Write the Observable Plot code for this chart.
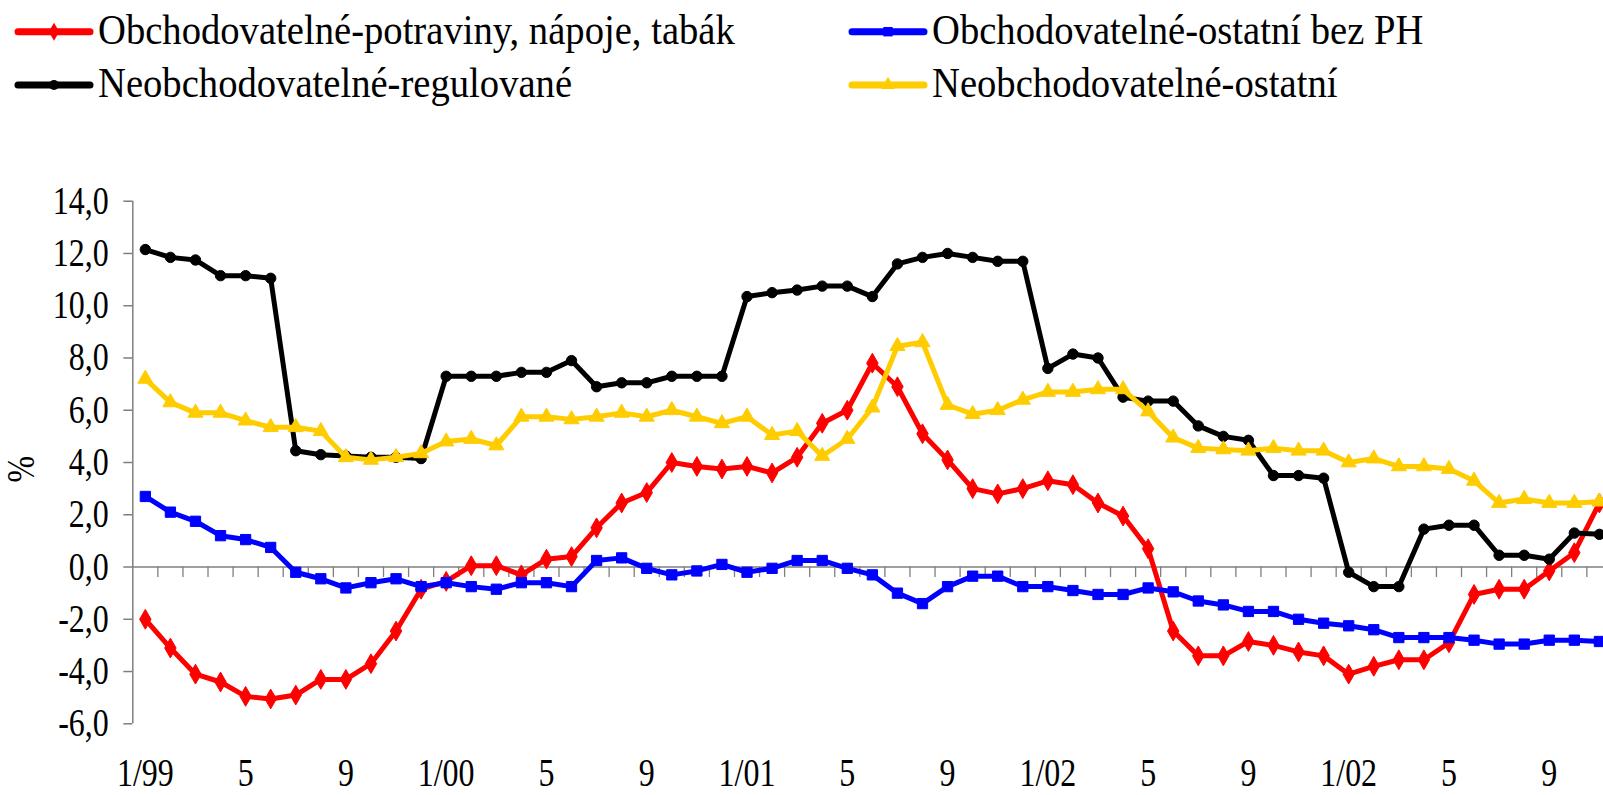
<!DOCTYPE html>
<html>
<head>
<meta charset="utf-8">
<script src="https://cdn.jsdelivr.net/npm/d3@7"></script>
<script src="https://cdn.jsdelivr.net/npm/@observablehq/plot@0.6"></script>
<style>
  html, body { margin: 0; padding: 0; background: #fff; overflow: hidden; }
  #wrap { width: 1603px; height: 795px; position: relative; overflow: hidden; }
  #legend { display: block; }
  #chart svg { display: block; }
</style>
</head>
<body>
<div id="wrap">
  <svg id="legend" width="1603" height="130" xmlns="http://www.w3.org/2000/svg"></svg>
  <div id="chart"></div>
</div>
<script>
// ---- data (monthly, 1/99 .. 11/03) ----
const seriesNames = [
  "Obchodovatelné-potraviny, nápoje, tabák",
  "Obchodovatelné-ostatní bez PH",
  "Neobchodovatelné-regulované",
  "Neobchodovatelné-ostatní"
];
const seriesColors = ["#ff0000", "#0000ff", "#000000", "#ffcc00"];
const seriesSymbols = ["diamond", "square", "circle", "triangle"];

const potraviny = [
  -2.0, -3.1, -4.1, -4.4, -4.95, -5.05, -4.9, -4.3, -4.3, -3.7, -2.45, -0.85,
  -0.55, 0.05, 0.05, -0.3, 0.3, 0.4, 1.5, 2.45, 2.85, 4.0, 3.85, 3.75,
  3.85, 3.6, 4.2, 5.5, 6.0, 7.8, 6.9, 5.1, 4.1, 3.0, 2.8, 3.0,
  3.3, 3.15, 2.45, 1.95, 0.7, -2.45, -3.4, -3.4, -2.85, -3.0, -3.25, -3.4,
  -4.1, -3.8, -3.55, -3.55, -2.9, -1.05, -0.85, -0.85, -0.15, 0.55, 2.45
];
const ostatniBezPH = [
  2.7, 2.1, 1.75, 1.2, 1.05, 0.75, -0.2, -0.45, -0.8, -0.6, -0.45, -0.75,
  -0.6, -0.75, -0.85, -0.6, -0.6, -0.75, 0.25, 0.35, -0.05, -0.3, -0.15, 0.1,
  -0.2, -0.05, 0.25, 0.25, -0.05, -0.3, -1.0, -1.4, -0.75, -0.35, -0.35, -0.75,
  -0.75, -0.9, -1.05, -1.05, -0.8, -0.95, -1.3, -1.45, -1.7, -1.7, -2.0, -2.15,
  -2.25, -2.4, -2.7, -2.7, -2.7, -2.8, -2.95, -2.95, -2.8, -2.8, -2.85
];
const regulovane = [
  12.15, 11.85, 11.75, 11.15, 11.15, 11.05, 4.45, 4.3, 4.25, 4.2, 4.2, 4.15,
  7.3, 7.3, 7.3, 7.45, 7.45, 7.9, 6.9, 7.05, 7.05, 7.3, 7.3, 7.3,
  10.35, 10.5, 10.6, 10.75, 10.75, 10.35, 11.6, 11.85, 12.0, 11.85, 11.7, 11.7,
  7.6, 8.15, 8.0, 6.5, 6.35, 6.35, 5.4, 5.0, 4.85, 3.5, 3.5, 3.4,
  -0.2, -0.75, -0.75, 1.45, 1.6, 1.6, 0.45, 0.45, 0.3, 1.3, 1.25
];
const ostatni = [
  7.2, 6.3, 5.9, 5.9, 5.6, 5.35, 5.35, 5.2, 4.2, 4.1, 4.2, 4.35,
  4.8, 4.9, 4.65, 5.75, 5.75, 5.65, 5.75, 5.9, 5.75, 6.0, 5.75, 5.5,
  5.75, 5.05, 5.2, 4.25, 4.9, 6.1, 8.45, 8.6, 6.2, 5.85, 6.0, 6.4,
  6.7, 6.7, 6.8, 6.8, 5.95, 4.95, 4.55, 4.5, 4.45, 4.55, 4.45, 4.45,
  4.0, 4.15, 3.85, 3.85, 3.75, 3.3, 2.45, 2.6, 2.45, 2.45, 2.5
];
const seriesValues = [potraviny, ostatniBezPH, regulovane, ostatni];

const xTickIndex = [0, 4, 8, 12, 16, 20, 24, 28, 32, 36, 40, 44, 48, 52, 56];
const xTickLabels = ["1/99", "5", "9", "1/00", "5", "9", "1/01", "5", "9", "1/02", "5", "9", "1/02", "5", "9"];
const yTicks = [-6, -4, -2, 0, 2, 4, 6, 8, 10, 12, 14];
const yLabel = "%";

// ---- layout ----
const W = 1603, H = 665;
const mL = 132.3, mT = 70.7, mB = 71.7;
const nCat = potraviny.length;
const gray = "#7f7f7f";
const FONT = "'Liberation Serif', 'Times New Roman', serif";

const rowsOf = (vals) => vals.map((v, i) => ({i, v}));
const boundaries = d3.range(0.5, nCat - 1, 1);

const marks = [
  Plot.ruleY([0], {x1: -0.5, x2: nCat - 0.5, stroke: gray, strokeWidth: 1.5}),
  Plot.ruleX(boundaries, {x: d => d, y1: 0, y2: -0.4, stroke: gray, strokeWidth: 1.3}),
  Plot.ruleX([-0.5], {y1: -6, y2: 14, stroke: gray, strokeWidth: 1.5}),
  Plot.axisY({
    ticks: yTicks, tickSize: 9, tickPadding: 15, stroke: gray, strokeWidth: 1.5,
    fill: "black", fontSize: 39, fontFamily: FONT, tickFormat: d => d.toFixed(1).replace(".", ","), label: null
  }),
  Plot.text(xTickIndex, {
    x: d => d, text: (d, i) => xTickLabels[i], frameAnchor: "bottom",
    lineAnchor: "bottom", dy: 62, fontSize: 39, fontFamily: FONT, fill: "black"
  }),
  Plot.text([yLabel], {
    text: d => d, frameAnchor: "left", dx: -111, dy: 20, rotate: -90,
    fontSize: 39, fontFamily: FONT, fill: "black"
  })
];

seriesValues.forEach((vals, k) => {
  marks.push(Plot.line(rowsOf(vals), {x: "i", y: "v", stroke: seriesColors[k], strokeWidth: 5, strokeLinejoin: "round"}));
  const r = [6, 5.8, 5.2, 5.6][k];
  marks.push(Plot.dot(rowsOf(vals), {x: "i", y: "v", symbol: seriesSymbols[k], r, fill: seriesColors[k], stroke: seriesColors[k], strokeWidth: 1}));
});

const chart = Plot.plot({
  width: W, height: H,
  marginLeft: mL, marginTop: mT, marginBottom: mB, marginRight: 0,
  style: {fontFamily: FONT, fontSize: "39px", background: "white", color: "black", overflow: "hidden"},
  x: {type: "linear", domain: [-0.5, nCat - 0.5], range: [mL, mL + nCat * 25.07], axis: null},
  y: {domain: [-6, 14], axis: null},
  marks
});
document.getElementById("chart").appendChild(chart);

// condense glyphs horizontally like the reference typeface
chart.querySelectorAll("text").forEach(t => {
  const tr = t.getAttribute("transform") || "";
  t.setAttribute("transform", tr + " scale(0.82,1)");
});

// ---- legend ----
const lg = d3.select("#legend");
const legendPos = [
  {lx: 18, tx: 98, y: 31.7, by: 43.5},
  {lx: 852, tx: 932, y: 31.7, by: 43.5},
  {lx: 18, tx: 98, y: 85, by: 96.5},
  {lx: 852, tx: 932, y: 85, by: 96.5}
];
const symMap = {diamond: d3.symbolDiamond, square: d3.symbolSquare, circle: d3.symbolCircle, triangle: d3.symbolTriangle};
seriesNames.forEach((name, k) => {
  const p = legendPos[k];
  lg.append("line").attr("x1", p.lx).attr("x2", p.lx + 72).attr("y1", p.y).attr("y2", p.y)
    .attr("stroke", seriesColors[k]).attr("stroke-width", 7).attr("stroke-linecap", "round");
  const rr = [5.5, 5.3, 5, 5.3][k];
  lg.append("path").attr("d", d3.symbol(symMap[seriesSymbols[k]], Math.PI * rr * rr)())
    .attr("transform", `translate(${p.lx + 36},${p.y})`).attr("fill", seriesColors[k]);
  lg.append("text").attr("transform", `translate(${p.tx},${p.by}) scale(0.92,1)`)
    .attr("font-family", FONT).attr("font-size", 42).attr("fill", "black").text(name);
});
</script>
</body>
</html>
